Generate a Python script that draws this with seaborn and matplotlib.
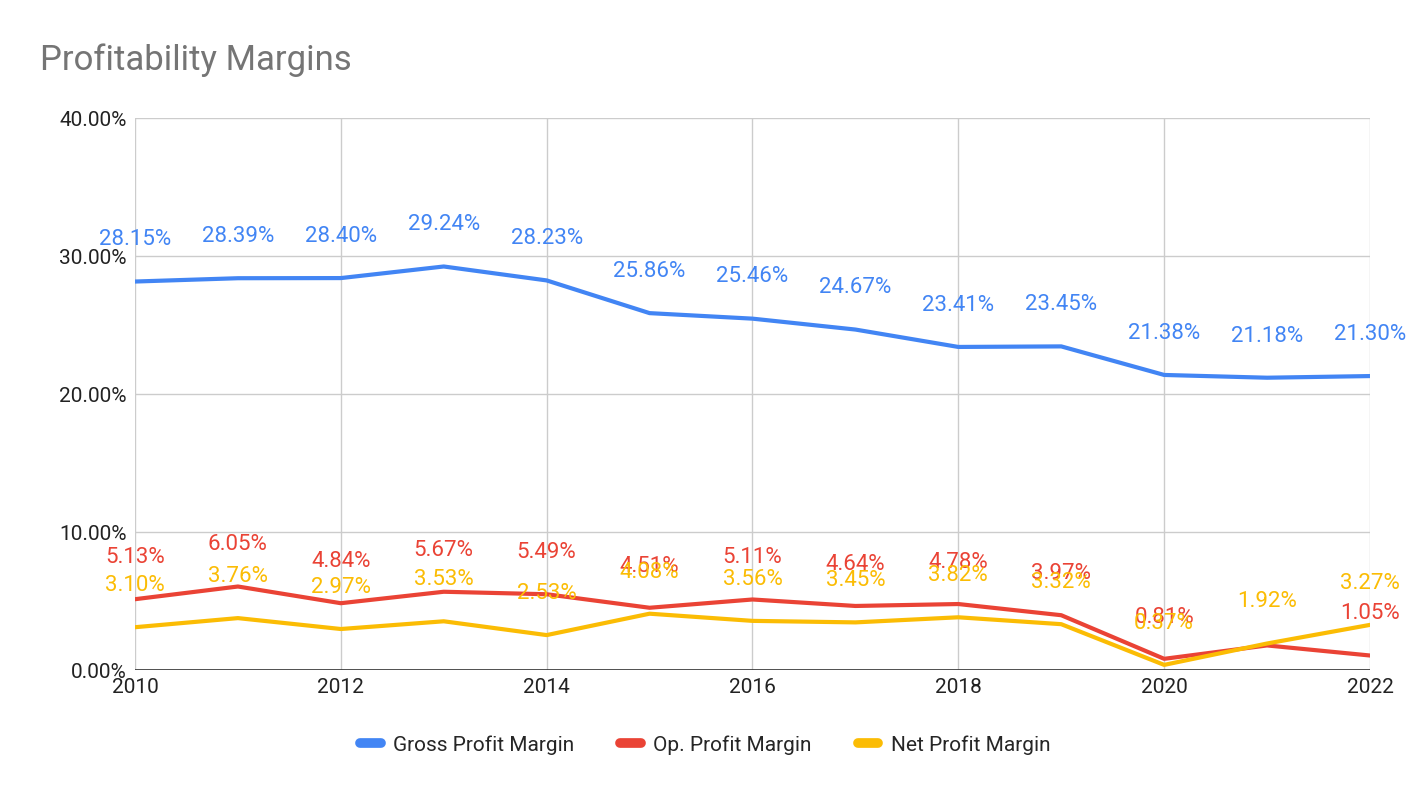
import matplotlib
matplotlib.use("Agg")
import matplotlib.pyplot as plt
import seaborn as sns
import pandas as pd

years = list(range(2010, 2023))
gross = [28.15, 28.39, 28.40, 29.24, 28.23, 25.86, 25.46, 24.67, 23.41, 23.45, 21.38, 21.18, 21.30]
op = [5.13, 6.05, 4.84, 5.67, 5.49, 4.51, 5.11, 4.64, 4.78, 3.97, 0.81, 1.78, 1.05]
net = [3.10, 3.76, 2.97, 3.53, 2.53, 4.08, 3.56, 3.45, 3.82, 3.32, 0.37, 1.92, 3.27]
series_names = ["Gross Profit Margin", "Op. Profit Margin", "Net Profit Margin"]
colors = ["#4285F4", "#EA4335", "#FBBC04"]

sns.set_theme(style="white")
plt.rcParams['font.family'] = ['Roboto', 'DejaVu Sans']

df = pd.DataFrame({"year": years * 3,
                   "value": gross + op + net,
                   "series": sum([[n] * len(years) for n in series_names], [])})

fig = plt.figure(figsize=(14.1, 7.98), dpi=100)
ax = fig.add_axes([135/1410, 128/798, 1235/1410, 552/798])
sns.lineplot(data=df, x="year", y="value", hue="series", palette=colors, linewidth=3, ax=ax, legend=False)

ax.set_xlim(2010, 2022)
ax.set_ylim(0, 40)
ax.set_xticks(range(2010, 2023, 2))
ax.set_yticks([0, 10, 20, 30, 40])
ax.set_yticklabels([f"{v:.2f}%" for v in [0, 10, 20, 30, 40]])
ax.grid(True, color="#cccccc", linewidth=1)
for s in ax.spines.values():
    s.set_visible(False)
ax.axhline(0, color="#333333", linewidth=1.2)
ax.tick_params(labelsize=15, colors="#222222", length=0, pad=6)
ax.set_xlabel("")
ax.set_ylabel("")

for vals, c, skip in [(gross, colors[0], []), (op, colors[1], [2021]), (net, colors[2], [])]:
    for x, v in zip(years, vals):
        if x in skip:
            continue
        ax.annotate(f"{v:.2f}%", (x, v), xytext=(0, 30), textcoords="offset points",
                    ha="center", va="center", fontsize=16, color=c, annotation_clip=False)

fig.text(40/1410, 1 - 60/798, "Profitability Margins", fontsize=25, color="#757575", va="center")

handles = [plt.Line2D([], [], color=c, linewidth=7) for c in colors]
fig.legend(handles, series_names, loc="center", bbox_to_anchor=(0.5, 1 - 745/798), ncol=3,
           frameon=False, fontsize=15, handlelength=1.0, columnspacing=2.2, handletextpad=0.6)

fig.savefig("out.png", dpi=100)
